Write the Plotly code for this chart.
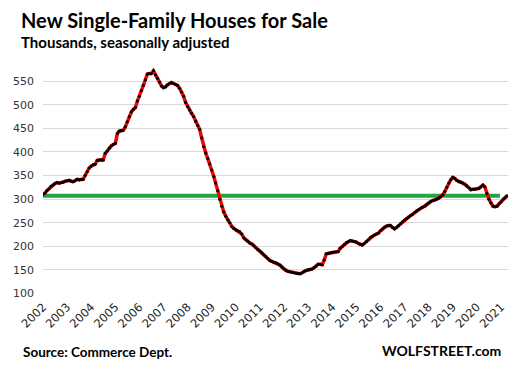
import pandas as pd
import plotly.graph_objects as go

# Monthly values, Jan 2002 - Apr 2021 (thousands, SA)
v2002 = [310, 313, 318, 322, 327, 330, 333, 335, 334, 335, 336, 338]
v2003 = [339, 340, 338, 337, 339, 342, 341, 342, 342, 350, 358, 366]
v2004 = [370, 373, 374, 382, 383, 383, 383, 397, 402, 408, 413, 416]
v2005 = [418, 439, 444, 445, 446, 453, 464, 475, 485, 490, 494, 508]
v2006 = [518, 530, 541, 553, 565, 566, 566, 572, 563, 556, 548, 540]
v2007 = [536, 538, 542, 545, 547, 545, 543, 541, 535, 527, 518, 505]
v2008 = [496, 489, 482, 475, 465, 456, 448, 430, 411, 398, 386, 375]
v2009 = [362, 348, 334, 318, 300, 285, 273, 264, 256, 250, 242, 238]
v2010 = [235, 233, 231, 226, 218, 214, 211, 207, 205, 201, 197, 193]
v2011 = [190, 186, 182, 178, 174, 170, 168, 166, 165, 163, 160, 156]
v2012 = [152, 149, 147, 146, 145, 144, 143, 142, 142, 144, 147, 149]
v2013 = [150, 151, 152, 155, 158, 162, 162, 161, 171, 184, 185, 186]
v2014 = [187, 188, 188, 189, 196, 200, 204, 208, 210, 212, 211, 210]
v2015 = [209, 206, 204, 203, 206, 210, 214, 219, 221, 224, 226, 228]
v2016 = [233, 237, 241, 243, 244, 244, 240, 237, 240, 244, 248, 252]
v2017 = [256, 259, 262, 265, 268, 272, 275, 278, 281, 283, 285, 289]
v2018 = [292, 295, 297, 298, 300, 302, 305, 309, 316, 325, 334, 341]
v2019 = [346, 344, 340, 337, 336, 334, 332, 328, 324, 320, 321, 321]
v2020 = [322, 323, 326, 330, 326, 312, 300, 292, 285, 284, 285, 290]
v2021 = [294, 300, 303, 307]

values = (v2002 + v2003 + v2004 + v2005 + v2006 + v2007 + v2008 + v2009 + v2010 +
          v2011 + v2012 + v2013 + v2014 + v2015 + v2016 + v2017 + v2018 + v2019 +
          v2020 + v2021)
dates = pd.date_range("2002-01-01", periods=len(values), freq="MS")

years = list(range(2002, 2022))
tick_vals = [f"{y}-01-01" for y in years]
tick_text = [str(y) for y in years]
y_ticks = [100, 150, 200, 250, 300, 350, 400, 450, 500, 550]

ref_level = values[-1]
ref_x = [dates[0], pd.Timestamp("2020-12-15")]

fig = go.Figure()
fig.add_trace(go.Scatter(
    x=ref_x, y=[ref_level, ref_level], mode="lines",
    line=dict(color="#21A645", width=4), hoverinfo="skip", showlegend=False))
fig.add_trace(go.Scatter(
    x=dates, y=values, mode="lines+markers",
    line=dict(color="#FF0000", width=3.5),
    marker=dict(color="#000000", size=3.2),
    showlegend=False))

fig.update_layout(
    width=513, height=369,
    margin=dict(l=43, r=5, t=67, b=74.5),
    paper_bgcolor="white", plot_bgcolor="white",
    font=dict(family="DejaVu Sans", size=11, color="#333333"),
    xaxis=dict(
        type="date",
        range=["2002-01-01", "2021-04-16"],
        tickvals=tick_vals, ticktext=tick_text, tickangle=-45,
        showgrid=False, zeroline=False, showline=False,
        ticks="", ticklabelstandoff=3,
        tickfont=dict(size=11.5, color="#222222")),
    yaxis=dict(
        range=[99, 580], tickvals=y_ticks,
        showgrid=True, gridcolor="#D9D9D9", gridwidth=1,
        zeroline=False, showline=False, ticks="",
        ticklabelstandoff=8,
        tickfont=dict(size=11, color="#333333")),
    annotations=[
        dict(text="<b>New Single-Family Houses for Sale</b>", xref="paper", yref="paper",
             x=-0.052, y=1.0, xanchor="left", yanchor="bottom", yshift=33,
             showarrow=False, font=dict(family="Lato", size=20, color="#000000")),
        dict(text="<b>Thousands, seasonally adjusted</b>", xref="paper", yref="paper",
             x=-0.052, y=1.0, xanchor="left", yanchor="bottom", yshift=14,
             showarrow=False, font=dict(family="Lato", size=15, color="#000000")),
        dict(text="<b>Source: Commerce Dept.</b>", xref="paper", yref="paper",
             x=-0.048, y=0, xanchor="left", yanchor="middle", yshift=-58,
             showarrow=False, font=dict(family="Lato", size=13.5, color="#000000")),
        dict(text="<b>WOLFSTREET.com</b>", xref="paper", yref="paper",
             x=0.99, y=0, xanchor="right", yanchor="middle", yshift=-56,
             showarrow=False, font=dict(family="Lato", size=14, color="#000000")),
    ],
)

fig.write_html("out.html", config={"displayModeBar": False},
               post_script="document.body.style.margin='0';")
